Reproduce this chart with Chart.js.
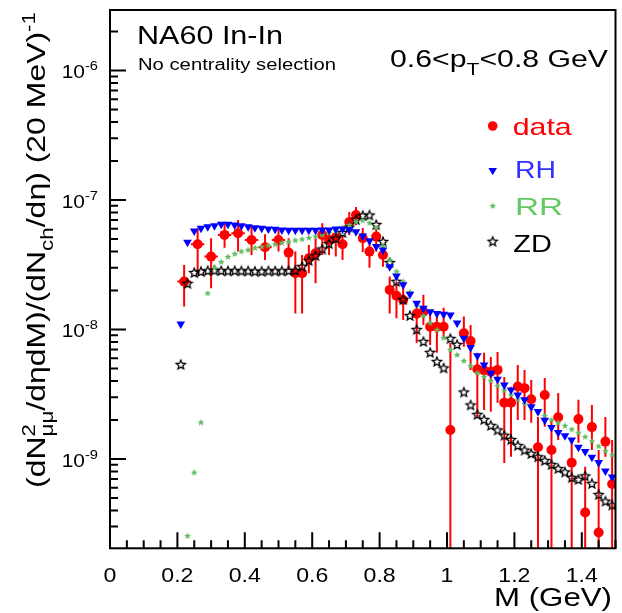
<!DOCTYPE html>
<html lang="en">
<head>
  <meta charset="UTF-8">
  <title>NA60 In-In dimuon excess, 0.6 &lt; pT &lt; 0.8 GeV</title>
  <script src="https://cdn.jsdelivr.net/npm/chart.js"></script>
  <style>
    body {
      margin: 0;
      background: #fff;
    }
    .chart-container {
      position: relative;
      width: 622px;
      height: 613px;
    }
  </style>
</head>
<body>
  <div class="chart-container"><canvas id="spectrum"></canvas></div>

  <script>
    // measured excess (GeV bin centres, value, upper / lower end of the error bar; 0 = down to the axis)
    const dataMass = [0.22, 0.26, 0.30, 0.34, 0.38, 0.42, 0.46, 0.50,
      0.53, 0.55, 0.57, 0.59, 0.61, 0.63, 0.65, 0.67, 0.69,
      0.71, 0.73, 0.75, 0.77, 0.79, 0.81, 0.83, 0.85, 0.87,
      0.91, 0.93, 0.95, 0.97, 0.99, 1.01,
      1.05, 1.07, 1.09, 1.11, 1.13, 1.15, 1.17, 1.19,
      1.21, 1.23, 1.25, 1.27, 1.29, 1.31, 1.33,
      1.37, 1.39, 1.41, 1.43, 1.45, 1.47, 1.49];
    const dataValue = [2.34e-8, 4.55e-8, 3.65e-8, 5.37e-8, 5.53e-8, 4.91e-8, 4.31e-8, 4.91e-8,
      3.92e-8, 2.72e-8, 2.72e-8, 3.55e-8, 3.88e-8, 5.37e-8, 4.91e-8, 5.15e-8, 4.55e-8,
      6.76e-8, 7.66e-8, 5.06e-8, 3.99e-8, 5.21e-8, 3.76e-8, 2.02e-8, 1.82e-8, 1.69e-8,
      1.32e-8, 1.37e-8, 1.05e-8, 1.05e-8, 1.05e-8, 1.67e-9,
      9.35e-9, 8.15e-9, 4.93e-9, 4.81e-9, 4.72e-9, 4.87e-9, 2.72e-9, 2.72e-9,
      3.62e-9, 3.52e-9, 2.89e-9, 1.23e-9, 3.12e-9, 1.17e-9, 2.10e-9,
      9.36e-10, 2.03e-9, 3.85e-10, 1.76e-9, 2.70e-10, 1.36e-9, 6.41e-10];
    const dataHigh = [3.15e-8, 6.05e-8, 5.06e-8, 6.61e-8, 7.01e-8, 6.22e-8, 5.43e-8, 6.05e-8,
      5.06e-8, 3.99e-8, 3.76e-8, 4.49e-8, 5.06e-8, 6.61e-8, 5.87e-8, 6.05e-8, 5.37e-8,
      8.08e-8, 8.83e-8, 6.08e-8, 4.66e-8, 6.22e-8, 4.49e-8, 2.56e-8, 2.34e-8, 2.14e-8,
      1.60e-8, 1.85e-8, 1.37e-8, 1.37e-8, 1.47e-8, 7.87e-9,
      1.26e-8, 1.08e-8, 6.59e-9, 6.59e-9, 6.13e-9, 6.70e-9, 4.30e-9, 3.60e-9,
      5.32e-9, 4.87e-9, 4.07e-9, 2.11e-9, 4.22e-9, 2.00e-9, 3.23e-9,
      1.40e-9, 2.86e-9, 8.68e-10, 2.61e-9, 1.17e-9, 2.11e-9, 1.40e-9];
    const dataLow = [1.50e-8, 2.64e-8, 2.08e-8, 4.28e-8, 3.99e-8, 3.76e-8, 3.44e-8, 3.99e-8,
      2.88e-8, 1.33e-8, 1.33e-8, 2.72e-8, 2.27e-8, 3.76e-8, 3.76e-8, 3.65e-8, 3.44e-8,
      5.37e-8, 6.41e-8, 3.97e-8, 2.99e-8, 3.99e-8, 3.05e-8, 1.33e-8, 1.22e-8, 1.18e-8,
      7.87e-9, 1.08e-8, 7.59e-9, 6.59e-9, 8.75e-9, 0,
      7.36e-9, 4.87e-9, 2.07e-9, 2.39e-9, 2.31e-9, 2.71e-9, 9.31e-10, 1.04e-9,
      2.00e-9, 2.00e-9, 1.90e-9, 0, 1.77e-9, 0, 1.40e-9,
      0, 1.33e-9, 0, 1.17e-9, 0, 1.04e-9, 0];
    // below this mass the data come in 40 MeV bins, above in 20 MeV bins
    const wideBinLimit = 0.52;

    // model curves, 20 MeV bins
    const modelMass = [0.21, 0.23, 0.25, 0.27, 0.29, 0.31, 0.33, 0.35, 0.37, 0.39,
      0.41, 0.43, 0.45, 0.47, 0.49, 0.51, 0.53, 0.55, 0.57, 0.59,
      0.61, 0.63, 0.65, 0.67, 0.69, 0.71, 0.73, 0.75, 0.77, 0.79,
      0.81, 0.83, 0.85, 0.87, 0.89, 0.91, 0.93, 0.95, 0.97, 0.99,
      1.01, 1.03, 1.05, 1.07, 1.09, 1.11, 1.13, 1.15, 1.17, 1.19,
      1.21, 1.23, 1.25, 1.27, 1.29, 1.31, 1.33, 1.35, 1.37, 1.39,
      1.41, 1.43, 1.45, 1.47, 1.49];
    const rhValue = [1.10e-8, 4.72e-8, 5.76e-8, 6.05e-8, 6.22e-8, 6.33e-8, 6.49e-8, 6.49e-8, 6.41e-8, 6.33e-8,
      6.22e-8, 6.11e-8, 6.05e-8, 5.97e-8, 5.94e-8, 5.87e-8, 5.83e-8, 5.83e-8, 5.83e-8, 5.83e-8,
      5.83e-8, 5.87e-8, 5.87e-8, 5.97e-8, 5.97e-8, 5.92e-8, 5.69e-8, 5.27e-8, 4.83e-8, 4.36e-8,
      4.11e-8, 3.05e-8, 2.59e-8, 2.21e-8, 1.87e-8, 1.59e-8, 1.46e-8, 1.37e-8, 1.33e-8, 1.31e-8,
      1.29e-8, 1.12e-8, 8.55e-9, 7.24e-9, 6.25e-9, 5.32e-9, 4.59e-9, 4.12e-9, 3.73e-9, 3.41e-9,
      3.12e-9, 2.86e-9, 2.53e-9, 2.32e-9, 1.99e-9, 1.75e-9, 1.60e-9, 1.51e-9, 1.40e-9, 1.23e-9,
      1.14e-9, 1.03e-9, 9.40e-10, 8.08e-10, 7.26e-10];
    const rrValue = [null, 2.54e-10, 7.84e-10, 1.91e-9, 1.90e-8, 2.99e-8, 3.32e-8, 3.63e-8, 3.83e-8, 4.00e-8,
      4.11e-8, 4.26e-8, 4.34e-8, 4.45e-8, 4.53e-8, 4.66e-8, 4.74e-8, 4.87e-8, 4.96e-8, 5.09e-8,
      5.23e-8, 5.37e-8, 5.56e-8, 5.76e-8, 6.08e-8, 6.41e-8, 6.76e-8, 6.94e-8, 6.64e-8, 6.08e-8,
      4.41e-8, 3.44e-8, 2.80e-8, 2.34e-8, 1.94e-8, 1.52e-8, 1.27e-8, 1.12e-8, 9.91e-9, 8.60e-9,
      6.94e-9, 6.35e-9, 5.71e-9, 5.22e-9, 4.61e-9, 4.30e-9, 4.00e-9, 3.66e-9, 3.38e-9, 3.12e-9,
      2.88e-9, 2.66e-9, 2.48e-9, 2.31e-9, 2.15e-9, 2.00e-9, 1.90e-9, 1.80e-9, 1.69e-9, 1.59e-9,
      1.48e-9, 1.37e-9, 1.25e-9, 1.15e-9, 1.07e-9];
    const zdValue = [5.32e-9, 2.25e-8, 2.73e-8, 2.78e-8, 2.82e-8, 2.84e-8, 2.82e-8, 2.81e-8, 2.82e-8, 2.81e-8,
      2.81e-8, 2.79e-8, 2.79e-8, 2.81e-8, 2.81e-8, 2.81e-8, 2.82e-8, 2.83e-8, 3.04e-8, 3.38e-8,
      3.69e-8, 4.15e-8, 4.57e-8, 5.00e-8, 5.56e-8, 6.13e-8, 7.01e-8, 7.52e-8, 7.59e-8, 6.41e-8,
      4.74e-8, 3.26e-8, 2.33e-8, 1.69e-8, 1.27e-8, 9.91e-9, 8.01e-9, 6.59e-9, 5.61e-9, 5.00e-9,
      8.45e-9, 7.59e-9, 3.26e-9, 2.59e-9, 2.19e-9, 2.00e-9, 1.80e-9, 1.66e-9, 1.51e-9, 1.40e-9,
      1.26e-9, 1.16e-9, 1.09e-9, 1.03e-9, 9.65e-10, 8.99e-10, 8.37e-10, 7.87e-10, 7.13e-10, 6.88e-10,
      7.33e-10, 6.41e-10, 5.27e-10, 4.68e-10, 4.37e-10];

    // axes
    const xMin = 0, xMax = 1.5;
    const yMin = 2.04e-10, yMax = 2.93e-6;
    const xTicks = [0, 0.2, 0.4, 0.6, 0.8, 1.0, 1.2, 1.4];
    const xTickLabels = ['0', '0.2', '0.4', '0.6', '0.8', '1', '1.2', '1.4'];
    const yDecades = [-9, -8, -7, -6];

    const FONT = '"Liberation Sans", Arial, Helvetica, sans-serif';
    const RED = '#ff0000';
    const BLUE = '#0000ff';
    const GREEN = 'rgb(96,186,96)';

    // five-pointed star marker as a small canvas (Chart.js' own "star" is an asterisk)
    function starMarker(r, fill, stroke) {
      const s = Math.ceil(2 * r + 4);
      const c = document.createElement('canvas');
      c.width = c.height = s;
      const g = c.getContext('2d');
      g.beginPath();
      for (let i = 0; i < 10; i++) {
        const a = -Math.PI / 2 + i * Math.PI / 5;
        const rr = i % 2 ? r * 0.45 : r;
        g.lineTo(s / 2 + rr * Math.cos(a), s / 2 + rr * Math.sin(a));
      }
      g.closePath();
      if (fill) { g.fillStyle = fill; g.fill(); }
      if (stroke) { g.strokeStyle = stroke; g.lineWidth = 1.3; g.stroke(); }
      return c;
    }
    const greenStar = starMarker(3.6, GREEN, null);
    const openStar = starMarker(4.8, null, '#000');

    // text with super/subscripts, stretched horizontally to a given width
    function drawRich(ctx, pieces, x, y, size, opt = {}) {
      const runs = pieces.map(p => typeof p === 'string' ? { t: p } : Object.assign({}, p));
      let pen = 0, lastStart = 0;
      runs.forEach(r => {
        r.size = (r.sup || r.sub) ? size * 0.7 : size;
        ctx.font = r.size + 'px ' + FONT;
        r.w = ctx.measureText(r.t).width;
        r.x0 = r.stack ? lastStart : pen;
        pen = Math.max(pen, r.x0 + r.w);
        lastStart = r.x0;
      });
      const sx = opt.width ? opt.width / pen : (opt.sx || 1);
      let shift = 0;
      if (opt.align === 'right') shift = -pen;
      else if (opt.align === 'center') shift = -pen / 2;
      ctx.save();
      ctx.translate(x, y);
      if (opt.angle) ctx.rotate(opt.angle);
      ctx.scale(sx, 1);
      ctx.fillStyle = opt.color || '#000';
      ctx.textBaseline = 'alphabetic';
      ctx.textAlign = 'left';
      runs.forEach(r => {
        ctx.font = r.size + 'px ' + FONT;
        const dy = r.sup ? -size * 0.42 : r.sub ? size * (opt.subDrop || 0.3) : 0;
        ctx.fillText(r.t, shift + r.x0, dy);
      });
      ctx.restore();
    }

    function legendMarker(ctx, kind, x, y) {
      ctx.save();
      if (kind === 'circle') {
        ctx.fillStyle = RED;
        ctx.beginPath();
        ctx.arc(x, y, 4.8, 0, Math.PI * 2);
        ctx.fill();
      } else if (kind === 'triangle') {
        ctx.fillStyle = BLUE;
        ctx.beginPath();
        ctx.moveTo(x - 4.3, y - 2.5);
        ctx.lineTo(x + 4.3, y - 2.5);
        ctx.lineTo(x, y + 4.8);
        ctx.closePath();
        ctx.fill();
      } else {
        ctx.drawImage(kind, x - kind.width / 2, y - kind.height / 2);
      }
      ctx.restore();
    }

    const rootStyle = {
      id: 'rootStyle',
      // error bars go under the data markers
      beforeDatasetDraw(chart, args) {
        if (chart.data.datasets[args.index].label !== 'data') return;
        const { ctx, chartArea: a, scales: { x, y } } = chart;
        ctx.save();
        ctx.beginPath();
        ctx.rect(a.left, a.top, a.right - a.left, a.bottom - a.top);
        ctx.clip();
        ctx.strokeStyle = RED;
        ctx.lineWidth = 2;
        dataMass.forEach((m, i) => {
          const px = x.getPixelForValue(m);
          const py = y.getPixelForValue(dataValue[i]);
          const hw = m < wideBinLimit ? 0.02 : 0.01;
          ctx.beginPath();
          ctx.moveTo(px, y.getPixelForValue(dataHigh[i]));
          ctx.lineTo(px, dataLow[i] > 0 ? y.getPixelForValue(dataLow[i]) : a.bottom);
          ctx.moveTo(x.getPixelForValue(m - hw), py);
          ctx.lineTo(x.getPixelForValue(m + hw), py);
          ctx.stroke();
        });
        ctx.restore();
      },
      afterDraw(chart) {
        const { ctx, chartArea: a, scales: { x, y } } = chart;
        ctx.save();
        ctx.strokeStyle = '#000';
        ctx.lineWidth = 2;
        ctx.strokeRect(a.left, a.top, a.right - a.left, a.bottom - a.top);

        // ticks point into the frame
        ctx.beginPath();
        for (let v = 0; v <= xMax + 1e-9; v += 0.05) {
          const px = x.getPixelForValue(v);
          const major = xTicks.some(t => Math.abs(t - v) < 1e-6);
          ctx.moveTo(px, a.bottom);
          ctx.lineTo(px, a.bottom - (major ? 16 : 8));
        }
        for (let e = -10; e <= -6; e++) {
          for (let k = 1; k <= 9; k++) {
            const v = k * Math.pow(10, e);
            if (v < yMin || v > yMax) continue;
            const py = y.getPixelForValue(v);
            ctx.moveTo(a.left, py);
            ctx.lineTo(a.left + (k === 1 ? 16 : 8), py);
          }
        }
        ctx.stroke();

        xTicks.forEach((t, i) => {
          drawRich(ctx, [xTickLabels[i]], x.getPixelForValue(t), 582, 21, { align: 'center', sx: 1.1 });
        });
        yDecades.forEach(e => {
          const py = y.getPixelForValue(Math.pow(10, e));
          drawRich(ctx, ['10', { t: String(e), sup: true }], 98, py + 8, 19, { align: 'right', sx: 1.1 });
        });

        // axis titles
        drawRich(ctx, ['M (GeV)'], 494, 606, 25, { width: 118 });
        drawRich(ctx, ['(dN', { t: '2', sup: true }, { t: 'μμ', sub: true, stack: true },
          '/dηdM)/(dN', { t: 'ch', sub: true }, '/dη) (20 MeV)', { t: '-1', sup: true }],
          45, 488, 25, { angle: -Math.PI / 2, width: 476 });

        // labels inside the frame
        drawRich(ctx, ['NA60 In-In'], 137, 43.5, 25, { width: 146 });
        drawRich(ctx, ['No centrality selection'], 138, 70, 16, { width: 198 });
        drawRich(ctx, ['0.6<p', { t: 'T', sub: true }, '<0.8 GeV'], 390, 66.7, 23, { width: 218, subDrop: 0.38 });

        // legend
        legendMarker(ctx, 'circle', 492.7, 126);
        drawRich(ctx, ['data'], 512.7, 135, 24, { width: 59, color: RED });
        legendMarker(ctx, 'triangle', 492.7, 170.5);
        drawRich(ctx, ['RH'], 515, 178.3, 24, { width: 41, color: '#3030ff' });
        legendMarker(ctx, greenStar, 492.7, 206);
        drawRich(ctx, ['RR'], 515, 215, 24, { width: 48, color: 'rgb(100,200,100)' });
        legendMarker(ctx, openStar, 492.7, 241.7);
        drawRich(ctx, ['ZD'], 513.3, 251.7, 24, { width: 38.5 });
        ctx.restore();
      }
    };

    const points = (xs, ys) => xs.map((m, i) => ({ x: m, y: ys[i] })).filter(p => p.y !== null);

    new Chart(document.getElementById('spectrum').getContext('2d'), {
      type: 'scatter',
      data: {
        datasets: [
          {
            label: 'RH',
            data: points(modelMass, rhValue),
            pointStyle: 'triangle',
            pointRotation: 180,
            pointRadius: 5,
            backgroundColor: BLUE,
            borderColor: BLUE,
            borderWidth: 0
          },
          {
            label: 'RR',
            data: points(modelMass, rrValue),
            pointStyle: greenStar,
            pointRadius: 3.6
          },
          {
            label: 'ZD',
            data: points(modelMass, zdValue),
            pointStyle: openStar,
            pointRadius: 4.8
          },
          {
            label: 'data',
            data: points(dataMass, dataValue),
            pointStyle: 'circle',
            pointRadius: 5,
            backgroundColor: RED,
            borderColor: RED,
            borderWidth: 0
          }
        ]
      },
      options: {
        responsive: true,
        maintainAspectRatio: false,
        animation: false,
        devicePixelRatio: 1,
        layout: {
          padding: { left: 110, top: 10, right: 6.5, bottom: 64.7 }
        },
        plugins: {
          legend: { display: false },
          tooltip: { enabled: false }
        },
        scales: {
          x: { type: 'linear', min: xMin, max: xMax, display: false },
          y: { type: 'logarithmic', min: yMin, max: yMax, display: false }
        }
      },
      plugins: [rootStyle]
    });
  </script>
</body>
</html>
